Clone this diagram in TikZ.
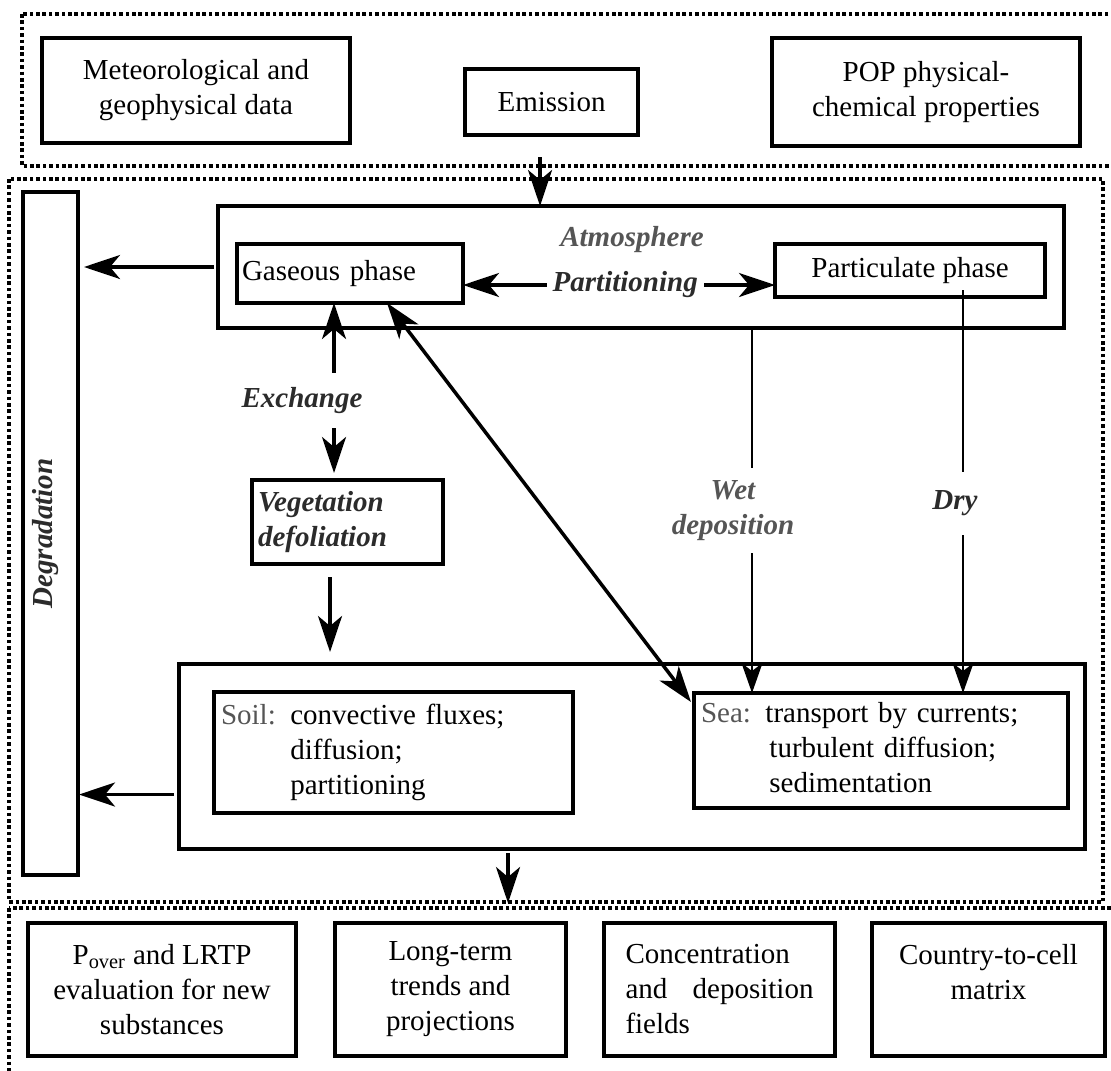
\documentclass[tikz,border=0pt]{standalone}
\usepackage{fontspec}
\setmainfont{Liberation Serif}
\usetikzlibrary{positioning, arrows.meta}
\definecolor{labgray}{HTML}{555555}
\definecolor{labdark}{HTML}{2B2B2B}
\newcommand\labfont{\fontsize{14.5}{17.5}\selectfont\bfseries\itshape}
\tikzset{
	every node/.append style={
		font=\fontsize{14.5}{17.5}\selectfont,
	},
	modelbox/.append style={
		draw,
		line width=2.1pt,
		align = center,
		inner sep=0pt,
		outer sep=0pt,
	},
	labe/.append style={
		fill=white,
		font=\labfont,
		text=labdark,
		align = center,
		inner xsep=3pt,
	},
	dotframe/.append style={
		line width=1.8pt,
		dash pattern=on 1.8pt off 1.4pt,
	},
	flow/.append style={
		line width=1.75pt,
		-{Stealth[length=18pt, width=12pt, inset=5pt]},
	},
	flowboth/.append style={
		line width=1.75pt,
		{Stealth[length=18pt, width=12pt, inset=5pt]}-{Stealth[length=18pt, width=12pt, inset=5pt]},
	},
	thinflow/.append style={
		line width=1pt,
		-{Stealth[length=15pt, width=10.5pt, inset=4pt]},
	}
}

\begin{document}
\begin{tikzpicture}[x=0.5pt, y=-0.5pt]
\useasboundingbox (0,0) rectangle (1111,1070);

% frames
\draw[dotframe] (22,14) rectangle (1130,166);
\draw[dotframe] (9,179) rectangle (1103,902);
\draw[dotframe] (9,908) rectangle (1130,1090);

% input data
\node(met)[modelbox, minimum width=154pt, minimum height=52.5pt] at (196,90.5) {Meteorological and\\geophysical data};
\node(emis)[modelbox, minimum width=86.5pt, minimum height=33pt] at (551.5,102) {Emission};
\node(pop)[modelbox, minimum width=154pt, minimum height=54pt] at (926,92) {POP physical-\\chemical properties};

% degradation
\node(degr)[modelbox, minimum width=27.5pt, minimum height=341.5pt] at (50.5,533.5) {};
\node(degrlbl)[labe, fill=none, rotate=90] at ([xshift=-2.5pt]degr.center) {Degradation};

% atmosphere
\node(atm)[modelbox, minimum width=423pt, minimum height=61pt] at (641,267) {};
\node(gas)[modelbox, text width=108pt, inner xsep=2.5pt, align=left, minimum height=29.5pt] at (350,273.5) {Gaseous phase};
\node(part)[modelbox, minimum width=135pt, minimum height=26.5pt] at (910,270.5) {Particulate phase};
\node(atmlbl)[labe, text=labgray] at (632,240) {Atmosphere};

\node(veg)[modelbox, text width=89.5pt, inner xsep=3pt, align=left, minimum height=42pt, font=\labfont, text=labdark] at (347.5,522) {Vegetation\\defoliation};

% surface
\node(surf)[modelbox, minimum width=453pt, minimum height=92.5pt] at (632,756.5) {};
\node(soil)[modelbox, text width=172.5pt, inner xsep=3.5pt, align=left, minimum height=60.5pt] at (393.5,752.5)
	{\begin{tabular}{@{}l@{ }l@{}}\textcolor{labgray}{Soil:} & convective fluxes;\\ & diffusion;\\ & partitioning\end{tabular}};
\node(sea)[modelbox, text width=180pt, inner xsep=3.5pt, align=left, minimum height=57.5pt] at (881,750.5)
	{\begin{tabular}{@{}l@{ }l@{}}\textcolor{labgray}{Sea:} & transport by currents;\\ & \hspace{2pt}turbulent diffusion;\\ & \hspace{2pt}sedimentation\end{tabular}};

% results
\node(b1)[modelbox, minimum width=134pt, minimum height=66.5pt] at (162,989.5) {P\textsubscript{over} and LRTP\\evaluation for new\\substances};
\node(b2)[modelbox, minimum width=115.5pt, minimum height=66.5pt, right=19.5pt of b1] {Long-term\\trends and\\projections};
\node(b3)[modelbox, minimum width=115.5pt, minimum height=66.5pt, text width=94pt, align=left, right=19pt of b2] {Concentration\\and\hfill deposition\\fields};
\node(b4)[modelbox, minimum width=116.5pt, minimum height=66.5pt, right=18.5pt of b3] {Country-to-cell\\matrix\\\mbox{}};

% connectors
\coordinate(emisout) at (540,157);
\draw[flow] (emisout) -- (emisout |- atm.north);
\draw[flow, shorten <=2pt, shorten >=3pt] (atm.west) -- (atm.west -| degr.east);
\draw[flow, shorten <=2.5pt, shorten >=0.5pt] ([yshift=-19pt]surf.west) -- ([yshift=-19pt]surf.west -| degr.east);

\coordinate(partline) at (0,285);
\draw[flowboth] (gas.east |- partline) -- node[labe, pos=0.52]{Partitioning} (part.west |- partline);

\coordinate(exch) at (334,0);
\draw[flowboth, shorten >=3.5pt] (gas.south -| exch) -- node[labe, pos=0.55, xshift=-16pt, inner ysep=7pt]{Exchange} (veg.north -| exch);

\coordinate(vegx) at (330,0);
\draw[flow, shorten <=6.5pt, shorten >=6pt] (veg.south -| vegx) -- (surf.north -| vegx);

\draw[flowboth] ([xshift=18.5pt]gas.south) -- ([xshift=-1.5pt, yshift=-4.5pt]sea.north west);

\coordinate(wetx) at (752,0);
\draw[thinflow] (atm.south -| wetx) -- node[labe, text=labgray, xshift=-9.5pt, inner ysep=6pt]{Wet\\deposition} (sea.north -| wetx);

\coordinate(dryx) at (963,290);
\draw[thinflow] (dryx) -- node[labe, pos=0.53, xshift=-4pt, inner ysep=9.5pt]{Dry} (sea.north -| dryx);

\coordinate(outx) at (508,903);
\draw[flow, shorten <=2pt] (surf.south -| outx) -- (outx);
\end{tikzpicture}
\end{document}
